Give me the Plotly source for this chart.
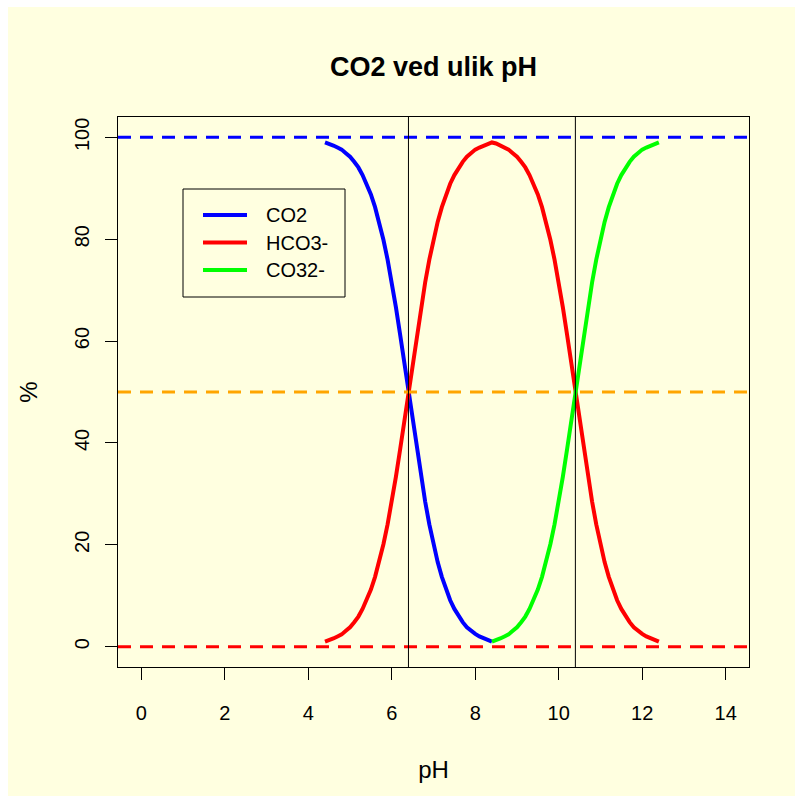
import plotly.graph_objects as go

# pH grid for the acidic and basic halves (step 0.1)
ph_low = [4.4, 4.5, 4.6, 4.7, 4.8, 4.9, 5.0, 5.1, 5.2, 5.3, 5.4, 5.5, 5.6, 5.7,
          5.8, 5.9, 6.0, 6.1, 6.2, 6.3, 6.4, 6.5, 6.6, 6.7, 6.8, 6.9, 7.0, 7.1,
          7.2, 7.3, 7.4, 7.5, 7.6, 7.7, 7.8, 7.9, 8.0, 8.1, 8.2, 8.3, 8.4]
ph_high = [8.4, 8.5, 8.6, 8.7, 8.8, 8.9, 9.0, 9.1, 9.2, 9.3, 9.4, 9.5, 9.6, 9.7,
           9.8, 9.9, 10.0, 10.1, 10.2, 10.3, 10.4, 10.5, 10.6, 10.7, 10.8, 10.9,
           11.0, 11.1, 11.2, 11.3, 11.4, 11.5, 11.6, 11.7, 11.8, 11.9, 12.0,
           12.1, 12.2, 12.3, 12.4]

# Percent of dissolved CO2 (pH 4.4 - 8.4)
co2_pct = [99.0, 98.8, 98.4, 98.0, 97.6, 96.9, 96.2, 95.2, 94.1, 92.6, 90.9,
           88.8, 86.3, 83.4, 79.9, 76.0, 71.5, 66.6, 61.3, 55.7, 50.0, 44.3,
           38.7, 33.4, 28.5, 24.0, 20.1, 16.6, 13.7, 11.2, 9.1, 7.4, 5.9, 4.8,
           3.8, 3.1, 2.5, 2.0, 1.6, 1.2, 1.0]

# Percent of HCO3- (pH 4.4 - 12.4)
hco3_ph = ph_low + ph_high[1:]
hco3_pct = [1.0, 1.2, 1.6, 2.0, 2.4, 3.1, 3.8, 4.8, 5.9, 7.4, 9.1, 11.2, 13.7,
            16.6, 20.1, 24.0, 28.5, 33.4, 38.7, 44.3, 50.0, 55.7, 61.3, 66.6,
            71.5, 76.0, 79.9, 83.4, 86.3, 88.8, 90.9, 92.6, 94.1, 95.2, 96.2,
            96.9, 97.6, 98.0, 98.4, 98.8, 99.0,
            98.8, 98.4, 98.0, 97.6, 96.9, 96.2, 95.2, 94.1, 92.6, 90.9,
            88.8, 86.3, 83.4, 79.9, 76.0, 71.5, 66.6, 61.3, 55.7, 50.0, 44.3,
            38.7, 33.4, 28.5, 24.0, 20.1, 16.6, 13.7, 11.2, 9.1, 7.4, 5.9, 4.8,
            3.8, 3.1, 2.5, 2.0, 1.6, 1.2, 1.0]

# Percent of CO3 2- (pH 8.4 - 12.4)
co3_pct = [1.0, 1.2, 1.6, 2.0, 2.4, 3.1, 3.8, 4.8, 5.9, 7.4, 9.1, 11.2, 13.7,
           16.6, 20.1, 24.0, 28.5, 33.4, 38.7, 44.3, 50.0, 55.7, 61.3, 66.6,
           71.5, 76.0, 79.9, 83.4, 86.3, 88.8, 90.9, 92.6, 94.1, 95.2, 96.2,
           96.9, 97.6, 98.0, 98.4, 98.8, 99.0]

# pKa values (vertical markers) and horizontal reference levels
pka_values = [6.4, 10.4]
ref_levels = [100, 0, 50]
ref_colors = ["#0000FF", "#FF0000", "#FFA500"]

series_names = ["CO2", "HCO3-", "CO32-"]
series_colors = ["#0000FF", "#FF0000", "#00FF00"]

x_ticks = [0, 2, 4, 6, 8, 10, 12, 14]
y_ticks = [0, 20, 40, 60, 80, 100]

BG = "#FFFFE0"
FONT = "Liberation Sans, Arial, sans-serif"

W, H = 795, 796
L, R, T, B = 118, 46, 117, 129
pw, ph = W - L - R, H - T - B


def px_x(p):
    return (p - L) / pw


def px_y(p):
    return (H - B - p) / ph


fig = go.Figure()
for xs, ys, name, col in zip([ph_low, hco3_ph, ph_high],
                             [co2_pct, hco3_pct, co3_pct],
                             series_names, series_colors):
    fig.add_trace(go.Scatter(x=xs, y=ys, mode="lines", name=name,
                             line=dict(color=col, width=4), showlegend=False))

shapes = []
for lvl, col in zip(ref_levels, ref_colors):
    shapes.append(dict(type="line", xref="paper", x0=0, x1=1, yref="y",
                       y0=lvl, y1=lvl, layer="above",
                       line=dict(color=col, width=3, dash="13px,9px")))
for pk in pka_values:
    shapes.append(dict(type="line", xref="x", x0=pk, x1=pk, yref="paper",
                       y0=0, y1=1, layer="above",
                       line=dict(color="black", width=1)))

# white strips along the top and left edges of the page
shapes.append(dict(type="rect", xref="paper", yref="paper", layer="below",
                   x0=px_x(0), x1=px_x(8), y0=px_y(H), y1=px_y(0),
                   fillcolor="white", line=dict(width=0)))
shapes.append(dict(type="rect", xref="paper", yref="paper", layer="below",
                   x0=px_x(0), x1=px_x(W), y0=px_y(7), y1=px_y(0),
                   fillcolor="white", line=dict(width=0)))

# legend box with line keys
annotations = []
shapes.append(dict(type="rect", xref="paper", yref="paper", layer="above",
                   x0=px_x(183), x1=px_x(345), y0=px_y(297), y1=px_y(189),
                   line=dict(color="black", width=1)))
for i, (name, col) in enumerate(zip(series_names, series_colors)):
    row_y = 215 + 27.5 * i
    shapes.append(dict(type="line", xref="paper", yref="paper", layer="above",
                       x0=px_x(203), x1=px_x(247), y0=px_y(row_y),
                       y1=px_y(row_y), line=dict(color=col, width=4)))
    annotations.append(dict(text=name, xref="paper", yref="paper",
                            x=px_x(264), y=px_y(row_y), xanchor="left",
                            yanchor="middle", showarrow=False,
                            font=dict(size=20, family=FONT, color="black")))

fig.update_layout(
    width=W, height=H,
    margin=dict(l=L, r=R, t=T, b=B),
    paper_bgcolor=BG, plot_bgcolor=BG,
    font=dict(family=FONT, size=20, color="black"),
    title=dict(text="<b>CO2 ved ulik pH</b>", x=(L + pw / 2) / W,
               xanchor="center", y=1 - 67 / H, yanchor="middle",
               font=dict(size=27, family=FONT)),
    shapes=shapes,
    annotations=annotations,
    showlegend=False,
    xaxis=dict(range=[-0.56, 14.56], tickvals=x_ticks, ticks="outside",
               ticklen=12, tickwidth=1, tickcolor="black", showgrid=False,
               zeroline=False, showline=True, linecolor="black", linewidth=1,
               mirror=True, title=dict(text="pH", standoff=38),
               ticklabelstandoff=16),
    yaxis=dict(range=[-4, 104], tickvals=y_ticks, ticks="outside",
               ticklen=12, tickwidth=1, tickcolor="black", showgrid=False,
               zeroline=False, showline=True, linecolor="black", linewidth=1,
               mirror=True, tickangle=-90, title=dict(text="%", standoff=26),
               ticklabelstandoff=8),
)

fig.write_html("out.html")
